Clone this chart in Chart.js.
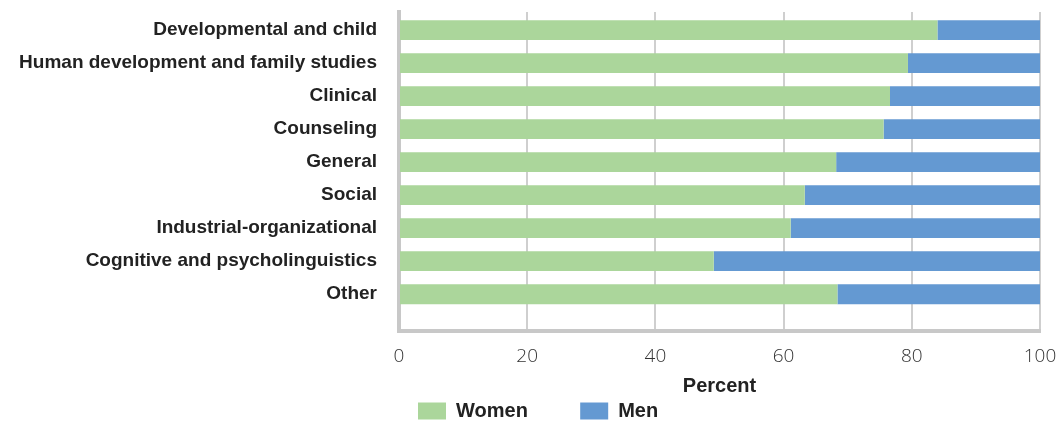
<!DOCTYPE html>
<html lang="en">
<head>
    <meta charset="UTF-8">
    <title>Women and men by subfield</title>
    <script src="https://cdn.jsdelivr.net/npm/chart.js"></script>
    <style>
        body { margin: 0; background: #fff; }
        .wrap { width: 1063px; height: 423px; }
    </style>
</head>
<body>
    <div class="wrap">
        <canvas id="grafico"></canvas>
    </div>
<script>
    const areas = ['Developmental and child', 'Human development and family studies', 'Clinical', 'Counseling',
        'General', 'Social', 'Industrial-organizational', 'Cognitive and psycholinguistics', 'Other'];
    const mulheres = [84, 79.4, 76.6, 75.6, 68.2, 63.3, 61.1, 49.1, 68.4];
    const homens = [16, 20.6, 23.4, 24.4, 31.8, 36.7, 38.9, 50.9, 31.6];
    const ticksX = [0, 20, 40, 60, 80, 100];

    const fonte = "'Liberation Sans', Arial, sans-serif";

    new Chart(document.getElementById('grafico'), {
        type: 'bar',
        data: {
            datasets: [{
                label: 'Women',
                data: mulheres.map((v, i) => ({ x: v, y: i })),
                backgroundColor: '#abd69b',
                barPercentage: 0.6,
                categoryPercentage: 1
            }, {
                label: 'Men',
                data: homens.map((v, i) => ({ x: v, y: i })),
                backgroundColor: '#6499d2',
                barPercentage: 0.6,
                categoryPercentage: 1
            }]
        },
        options: {
            indexAxis: 'y',
            responsive: true,
            maintainAspectRatio: false,
            animation: false,
            layout: { padding: { top: 12, right: 23, left: 0, bottom: -8 } },
            plugins: {
                tooltip: { enabled: false },
                legend: {
                    position: 'bottom',
                    fullSize: false,
                    align: 'start',
                    labels: {
                        boxWidth: 28,
                        boxHeight: 17,
                        padding: 19,
                        color: '#222',
                        font: { family: fonte, size: 20, weight: 'bold' },
                        // espaço extra depois de "Women" como no original
                        generateLabels: chart => Chart.defaults.plugins.legend.labels.generateLabels(chart)
                            .map((l, i) => Object.assign(l, { text: i === 0 ? l.text + '\u00a0'.repeat(6) : l.text }))
                    }
                }
            },
            scales: {
                x: {
                    stacked: true,
                    min: 0,
                    max: 100,
                    afterBuildTicks: s => { s.ticks = ticksX.map(v => ({ value: v })); },
                    afterFit: s => { s.paddingLeft = 0; s.paddingRight = 0; },
                    grid: { color: '#cfcfcf', lineWidth: 2, drawTicks: false },
                    border: { color: '#c8c8c8', width: 4 },
                    ticks: {
                        padding: 14,
                        color: '#333',
                        font: { family: "'Open Sans', sans-serif", size: 19, weight: 300 }
                    },
                    title: {
                        display: true,
                        text: 'Percent',
                        color: '#222',
                        padding: { top: -8, bottom: -16 },
                        font: { family: fonte, size: 20, weight: 'bold' }
                    }
                },
                y: {
                    type: 'linear',
                    offset: false,
                    stacked: true,
                    reverse: true,
                    min: -0.55,
                    max: 9.12,
                    afterBuildTicks: s => { s.ticks = areas.map((c, i) => ({ value: i })); },
                    afterFit: s => { s.width = 399; s.paddingTop = 0; s.paddingBottom = 0; },
                    grid: { display: false, drawTicks: false, offset: false },
                    border: { color: '#c8c8c8', width: 4 },
                    ticks: {
                        autoSkip: false,
                        padding: 22,
                        color: '#222',
                        font: { family: fonte, size: 19, weight: 'bold' },
                        callback: v => areas[v]
                    }
                }
            }
        }
    });
</script>
</body>
</html>
